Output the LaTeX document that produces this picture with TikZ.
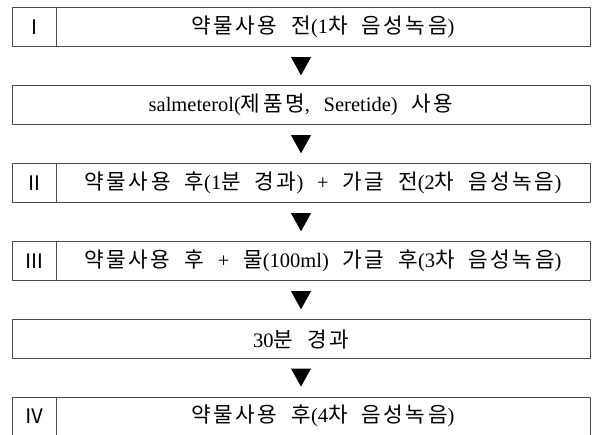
\documentclass[tikz,border=0pt]{standalone}
\usepackage{fontspec}
\setmainfont[WordSpace=2.7]{Liberation Serif}
\newfontfamily\hkfont[WordSpace=1.9, LetterSpace=12]{Noto Sans CJK KR}
\newfontfamily\rnfont{Noto Sans CJK KR}
\newcommand\hk[1]{{\fontsize{21.3}{24}\hkfont #1}}
\newcommand\rn[1]{{\fontsize{20}{24}\rnfont #1}}
\usetikzlibrary{calc}
\definecolor{linec}{gray}{0.3}
\tikzset{
  box/.style={draw=linec, line width=1pt, minimum height=38.5pt, inner sep=0pt,
    font=\fontsize{20.5}{24}\selectfont},
  numbox/.style={box, minimum width=44pt},
  textbox/.style={box, minimum width=534pt},
  fullbox/.style={box, minimum width=578pt},
  openbox/.style={box, draw=none},
  tri/.style={fill=black}
}
\begin{document}
\begin{tikzpicture}[x=1pt,y=-1pt]
\useasboundingbox[fill=white] (0,0) rectangle (592,435);
% row 1
\node[numbox] (n1) at (34,27.25) {\rn{Ⅰ}};
\node[textbox] (t1) at (323,27.25) {\hk{약물사용 전}(1\hk{차 음성녹음})};
% row 2
\node[fullbox] (t2) at (301,105.25) {salmeterol(\hk{제품명}, Seretide) \hk{사용}};
% row 3
\node[numbox] (n3) at (34,183.25) {\rn{Ⅱ}};
\node[textbox] (t3) at (323,183.25) {\hk{약물사용 후}(1\hk{분 경과}) + \hk{가글 전}(2\hk{차 음성녹음})};
% row 4
\node[numbox] (n4) at (34,261.25) {\rn{Ⅲ}};
\node[textbox] (t4) at (323,261.25) {\hk{약물사용 후} + \hk{물}(100ml) \hk{가글 후}(3\hk{차 음성녹음})};
% row 5
\node[fullbox] (t5) at (301,339.25) {30\hk{분 경과}};
% row 6 (cut off at the bottom)
\node[openbox, minimum width=44pt] (n6) at (34,416) {\rn{Ⅳ}};
\node[openbox, minimum width=534pt] (t6) at (323,416) {\hk{약물사용 후}(4\hk{차 음성녹음})};
\draw[linec, line width=1pt] (12,436) |- (590,398) -- (590,436);
\draw[linec, line width=1pt] (n6.east |- 0,398) -- (n6.east |- 0,436);
% arrows
\foreach \a/\b in {t1/t2, t2/t3, t3/t4, t4/t5, t5/t6}{
  \path ($(\a.south)!0.5!(\b.north)$) coordinate (m);
  \fill[tri] ([xshift=-10pt,yshift=9pt]301,0 |- m) -- ([xshift=10pt,yshift=9pt]301,0 |- m) -- ([yshift=-9pt]301,0 |- m) -- cycle;
}
\end{tikzpicture}
\end{document}
